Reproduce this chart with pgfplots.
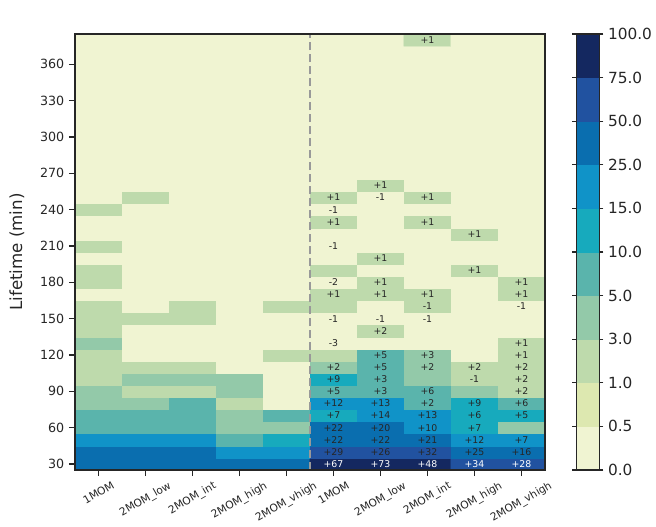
\documentclass[border=0pt]{standalone}
\usepackage{pgfplots}
\pgfplotsset{compat=1.18}
\usepackage{fontspec}
\setmainfont{DejaVu Sans}
\usepackage{graphicx}
\definecolor{c0}{HTML}{F0F4D2}
\definecolor{c1}{HTML}{DDE8B0}
\definecolor{c2}{HTML}{BEDAAC}
\definecolor{c3}{HTML}{93C9A9}
\definecolor{c4}{HTML}{5AB4AC}
\definecolor{c5}{HTML}{17AABD}
\definecolor{c6}{HTML}{1093C8}
\definecolor{c7}{HTML}{0A6EAF}
\definecolor{c8}{HTML}{2152A0}
\definecolor{c9}{HTML}{142860}
\definecolor{edge}{HTML}{262626}
\definecolor{sep}{HTML}{999999}
\begin{document}
\begin{tikzpicture}
\begin{axis}[
  scale only axis, width=352.5pt, height=327pt,
  xmin=-0.5, xmax=9.5, ymin=25, ymax=385,
  enlargelimits=false, axis on top,
  xtick={0,...,9},
  xticklabels={\rotatebox{30}{1MOM},\rotatebox{30}{2MOM\_low},\rotatebox{30}{2MOM\_int},\rotatebox{30}{2MOM\_high},\rotatebox{30}{2MOM\_vhigh},\rotatebox{30}{1MOM},\rotatebox{30}{2MOM\_low},\rotatebox{30}{2MOM\_int},\rotatebox{30}{2MOM\_high},\rotatebox{30}{2MOM\_vhigh}},
  xticklabel style={anchor=north, font=\fontsize{8}{9}\selectfont, text=edge},
  ytick={30,60,...,360},
  yticklabel style={font=\fontsize{9.5}{11}\selectfont, text=edge},
  /pgf/number format/assume math mode=true,
  tick align=outside, tick pos=left,
  major tick length=4.5pt,
  tick style={edge, line width=0.9pt},
  axis line style={edge, line width=0.9pt},
  ylabel={Lifetime (min)},
  ylabel style={at={(axis description cs:-0.1234,0.5)}, anchor=center, font=\fontsize{12.5}{14}\selectfont, text=edge},
  colormap={yg}{color(0)=(c0) color(0.99)=(c0) color(1)=(c1) color(1.99)=(c1) color(2)=(c2) color(2.99)=(c2) color(3)=(c3) color(3.99)=(c3) color(4)=(c4) color(4.99)=(c4) color(5)=(c5) color(5.99)=(c5) color(6)=(c6) color(6.99)=(c6) color(7)=(c7) color(7.99)=(c7) color(8)=(c8) color(8.99)=(c8) color(9)=(c9) color(10)=(c9)},
  colormap access=piecewise constant,
  point meta min=0, point meta max=10,
  colorbar,
  colorbar style={
    at={(parent axis.north east)}, anchor=north west, xshift=15pt,
    width=17.25pt,
    ytick={0,1,...,10},
    yticklabels={0.0,0.5,1.0,3.0,5.0,10.0,15.0,25.0,50.0,75.0,100.0},
    yticklabel style={font=\fontsize{11.5}{13}\selectfont, text=edge},
    tick align=outside, major tick length=3pt,
    tick style={edge, line width=0.8pt},
    axis line style={edge, line width=0.8pt},
  },
]
\addplot[matrix plot*, mesh/cols=10,
  point meta={0.5+(\thisrow{v}>0.4)+(\thisrow{v}>0.9)+(\thisrow{v}>2.9)+(\thisrow{v}>4.9)+(\thisrow{v}>9.9)+(\thisrow{v}>14.9)+(\thisrow{v}>24.9)+(\thisrow{v}>49.9)+(\thisrow{v}>74.9)}]
table[row sep=\\] {
x y v\\
0 30 30\\ 1 30 26\\ 2 30 40\\ 3 30 30\\ 4 30 35\\ 5 30 97\\ 6 30 99\\ 7 30 88\\ 8 30 64\\ 9 30 63\\
0 40 35\\ 1 40 30\\ 2 40 33\\ 3 40 20\\ 4 40 18\\ 5 40 64\\ 6 40 56\\ 7 40 65\\ 8 40 45\\ 9 40 34\\
0 50 20\\ 1 50 18\\ 2 50 19\\ 3 50 7\\ 4 50 12\\ 5 50 42\\ 6 50 40\\ 7 50 40\\ 8 50 19\\ 9 50 19\\
0 60 8\\ 1 60 7\\ 2 60 6\\ 3 60 4\\ 4 60 4\\ 5 60 30\\ 6 60 27\\ 7 60 16\\ 8 60 11\\ 9 60 4\\
0 70 6\\ 1 70 7\\ 2 70 8\\ 3 70 4\\ 4 70 6\\ 5 70 13\\ 6 70 21\\ 7 70 21\\ 8 70 10\\ 9 70 11\\
0 80 4\\ 1 80 4\\ 2 80 6\\ 3 80 2\\ 4 80 0\\ 5 80 16\\ 6 80 17\\ 7 80 8\\ 8 80 11\\ 9 80 6\\
0 90 3\\ 1 90 2\\ 2 90 2\\ 3 90 3\\ 4 90 0\\ 5 90 8\\ 6 90 5\\ 7 90 8\\ 8 90 3\\ 9 90 2\\
0 100 2\\ 1 100 3\\ 2 100 3\\ 3 100 3\\ 4 100 0\\ 5 100 11\\ 6 100 6\\ 7 100 3\\ 8 100 2\\ 9 100 2\\
0 110 1\\ 1 110 1\\ 2 110 1\\ 3 110 0\\ 4 110 0\\ 5 110 3\\ 6 110 6\\ 7 110 3\\ 8 110 2\\ 9 110 2\\
0 120 1\\ 1 120 0\\ 2 120 0\\ 3 120 0\\ 4 120 1\\ 5 120 1\\ 6 120 5\\ 7 120 3\\ 8 120 0\\ 9 120 2\\
0 130 3\\ 1 130 0\\ 2 130 0\\ 3 130 0\\ 4 130 0\\ 5 130 0\\ 6 130 0\\ 7 130 0\\ 8 130 0\\ 9 130 1\\
0 140 1\\ 1 140 0\\ 2 140 0\\ 3 140 0\\ 4 140 0\\ 5 140 0\\ 6 140 2\\ 7 140 0\\ 8 140 0\\ 9 140 0\\
0 150 1\\ 1 150 1\\ 2 150 1\\ 3 150 0\\ 4 150 0\\ 5 150 0\\ 6 150 0\\ 7 150 0\\ 8 150 0\\ 9 150 0\\
0 160 1\\ 1 160 0\\ 2 160 2\\ 3 160 0\\ 4 160 1\\ 5 160 1\\ 6 160 0\\ 7 160 1\\ 8 160 0\\ 9 160 0\\
0 170 0\\ 1 170 0\\ 2 170 0\\ 3 170 0\\ 4 170 0\\ 5 170 1\\ 6 170 1\\ 7 170 1\\ 8 170 0\\ 9 170 1\\
0 180 2\\ 1 180 0\\ 2 180 0\\ 3 180 0\\ 4 180 0\\ 5 180 0\\ 6 180 1\\ 7 180 0\\ 8 180 0\\ 9 180 1\\
0 190 1\\ 1 190 0\\ 2 190 0\\ 3 190 0\\ 4 190 0\\ 5 190 1\\ 6 190 0\\ 7 190 0\\ 8 190 1\\ 9 190 0\\
0 200 0\\ 1 200 0\\ 2 200 0\\ 3 200 0\\ 4 200 0\\ 5 200 0\\ 6 200 1\\ 7 200 0\\ 8 200 0\\ 9 200 0\\
0 210 1\\ 1 210 0\\ 2 210 0\\ 3 210 0\\ 4 210 0\\ 5 210 0\\ 6 210 0\\ 7 210 0\\ 8 210 0\\ 9 210 0\\
0 220 0\\ 1 220 0\\ 2 220 0\\ 3 220 0\\ 4 220 0\\ 5 220 0\\ 6 220 0\\ 7 220 0\\ 8 220 1\\ 9 220 0\\
0 230 0\\ 1 230 0\\ 2 230 0\\ 3 230 0\\ 4 230 0\\ 5 230 1\\ 6 230 0\\ 7 230 1\\ 8 230 0\\ 9 230 0\\
0 240 1\\ 1 240 0\\ 2 240 0\\ 3 240 0\\ 4 240 0\\ 5 240 0\\ 6 240 0\\ 7 240 0\\ 8 240 0\\ 9 240 0\\
0 250 0\\ 1 250 1\\ 2 250 0\\ 3 250 0\\ 4 250 0\\ 5 250 1\\ 6 250 0\\ 7 250 1\\ 8 250 0\\ 9 250 0\\
0 260 0\\ 1 260 0\\ 2 260 0\\ 3 260 0\\ 4 260 0\\ 5 260 0\\ 6 260 1\\ 7 260 0\\ 8 260 0\\ 9 260 0\\
0 270 0\\ 1 270 0\\ 2 270 0\\ 3 270 0\\ 4 270 0\\ 5 270 0\\ 6 270 0\\ 7 270 0\\ 8 270 0\\ 9 270 0\\
0 280 0\\ 1 280 0\\ 2 280 0\\ 3 280 0\\ 4 280 0\\ 5 280 0\\ 6 280 0\\ 7 280 0\\ 8 280 0\\ 9 280 0\\
0 290 0\\ 1 290 0\\ 2 290 0\\ 3 290 0\\ 4 290 0\\ 5 290 0\\ 6 290 0\\ 7 290 0\\ 8 290 0\\ 9 290 0\\
0 300 0\\ 1 300 0\\ 2 300 0\\ 3 300 0\\ 4 300 0\\ 5 300 0\\ 6 300 0\\ 7 300 0\\ 8 300 0\\ 9 300 0\\
0 310 0\\ 1 310 0\\ 2 310 0\\ 3 310 0\\ 4 310 0\\ 5 310 0\\ 6 310 0\\ 7 310 0\\ 8 310 0\\ 9 310 0\\
0 320 0\\ 1 320 0\\ 2 320 0\\ 3 320 0\\ 4 320 0\\ 5 320 0\\ 6 320 0\\ 7 320 0\\ 8 320 0\\ 9 320 0\\
0 330 0\\ 1 330 0\\ 2 330 0\\ 3 330 0\\ 4 330 0\\ 5 330 0\\ 6 330 0\\ 7 330 0\\ 8 330 0\\ 9 330 0\\
0 340 0\\ 1 340 0\\ 2 340 0\\ 3 340 0\\ 4 340 0\\ 5 340 0\\ 6 340 0\\ 7 340 0\\ 8 340 0\\ 9 340 0\\
0 350 0\\ 1 350 0\\ 2 350 0\\ 3 350 0\\ 4 350 0\\ 5 350 0\\ 6 350 0\\ 7 350 0\\ 8 350 0\\ 9 350 0\\
0 360 0\\ 1 360 0\\ 2 360 0\\ 3 360 0\\ 4 360 0\\ 5 360 0\\ 6 360 0\\ 7 360 0\\ 8 360 0\\ 9 360 0\\
0 370 0\\ 1 370 0\\ 2 370 0\\ 3 370 0\\ 4 370 0\\ 5 370 0\\ 6 370 0\\ 7 370 0\\ 8 370 0\\ 9 370 0\\
0 380 0\\ 1 380 0\\ 2 380 0\\ 3 380 0\\ 4 380 0\\ 5 380 0\\ 6 380 0\\ 7 380 1\\ 8 380 0\\ 9 380 0\\
};
\addplot[sep, line width=1.5pt, dash pattern=on 6pt off 3pt] coordinates {(4.5,25) (4.5,385)};
\addplot[draw=none, mark=none, nodes near coords, point meta=explicit symbolic,
  nodes near coords style={anchor=center, inner sep=0pt, font=\fontsize{7}{8}\selectfont, text=edge}]
table[row sep=\\, meta=l] {
x y l\\
5 40 +29\\ 6 40 +26\\ 7 40 +32\\ 8 40 +25\\ 9 40 +16\\
5 50 +22\\ 6 50 +22\\ 7 50 +21\\ 8 50 +12\\ 9 50 +7\\
5 60 +22\\ 6 60 +20\\ 7 60 +10\\ 8 60 +7\\
5 70 +7\\ 6 70 +14\\ 7 70 +13\\ 8 70 +6\\ 9 70 +5\\
5 80 +12\\ 6 80 +13\\ 7 80 +2\\ 8 80 +9\\ 9 80 +6\\
5 90 +5\\ 6 90 +3\\ 7 90 +6\\ 9 90 +2\\
5 100 +9\\ 6 100 +3\\ 8 100 -1\\ 9 100 +2\\
5 110 +2\\ 6 110 +5\\ 7 110 +2\\ 8 110 +2\\ 9 110 +2\\
6 120 +5\\ 7 120 +3\\ 9 120 +1\\
5 130 -3\\ 9 130 +1\\
6 140 +2\\
5 150 -1\\ 6 150 -1\\ 7 150 -1\\
7 160 -1\\ 9 160 -1\\
5 170 +1\\ 6 170 +1\\ 7 170 +1\\ 9 170 +1\\
5 180 -2\\ 6 180 +1\\ 9 180 +1\\
8 190 +1\\
6 200 +1\\
5 210 -1\\
8 220 +1\\
5 230 +1\\ 7 230 +1\\
5 240 -1\\
5 250 +1\\ 6 250 -1\\ 7 250 +1\\
6 260 +1\\
7 380 +1\\
};
\addplot[draw=none, mark=none, nodes near coords, point meta=explicit symbolic,
  nodes near coords style={anchor=center, inner sep=0pt, font=\fontsize{7}{8}\selectfont, text=white}]
table[row sep=\\, meta=l] {
x y l\\
5 30 +67\\ 6 30 +73\\ 7 30 +48\\ 8 30 +34\\ 9 30 +28\\
};
\node[anchor=base, font=\fontsize{11.5}{13}\selectfont, text=edge, yshift=6.75pt] at (rel axis cs:0.25,1) {Δ\textit{x} = 2 km};
\node[anchor=base, font=\fontsize{11.5}{13}\selectfont, text=edge, yshift=6.75pt] at (rel axis cs:0.75,1) {Δ\textit{x} = 1 km};
\end{axis}
\pgfresetboundingbox
\path[use as bounding box] (-56.25pt,-42pt) rectangle (435.75pt,352.5pt);
\end{tikzpicture}
\end{document}
